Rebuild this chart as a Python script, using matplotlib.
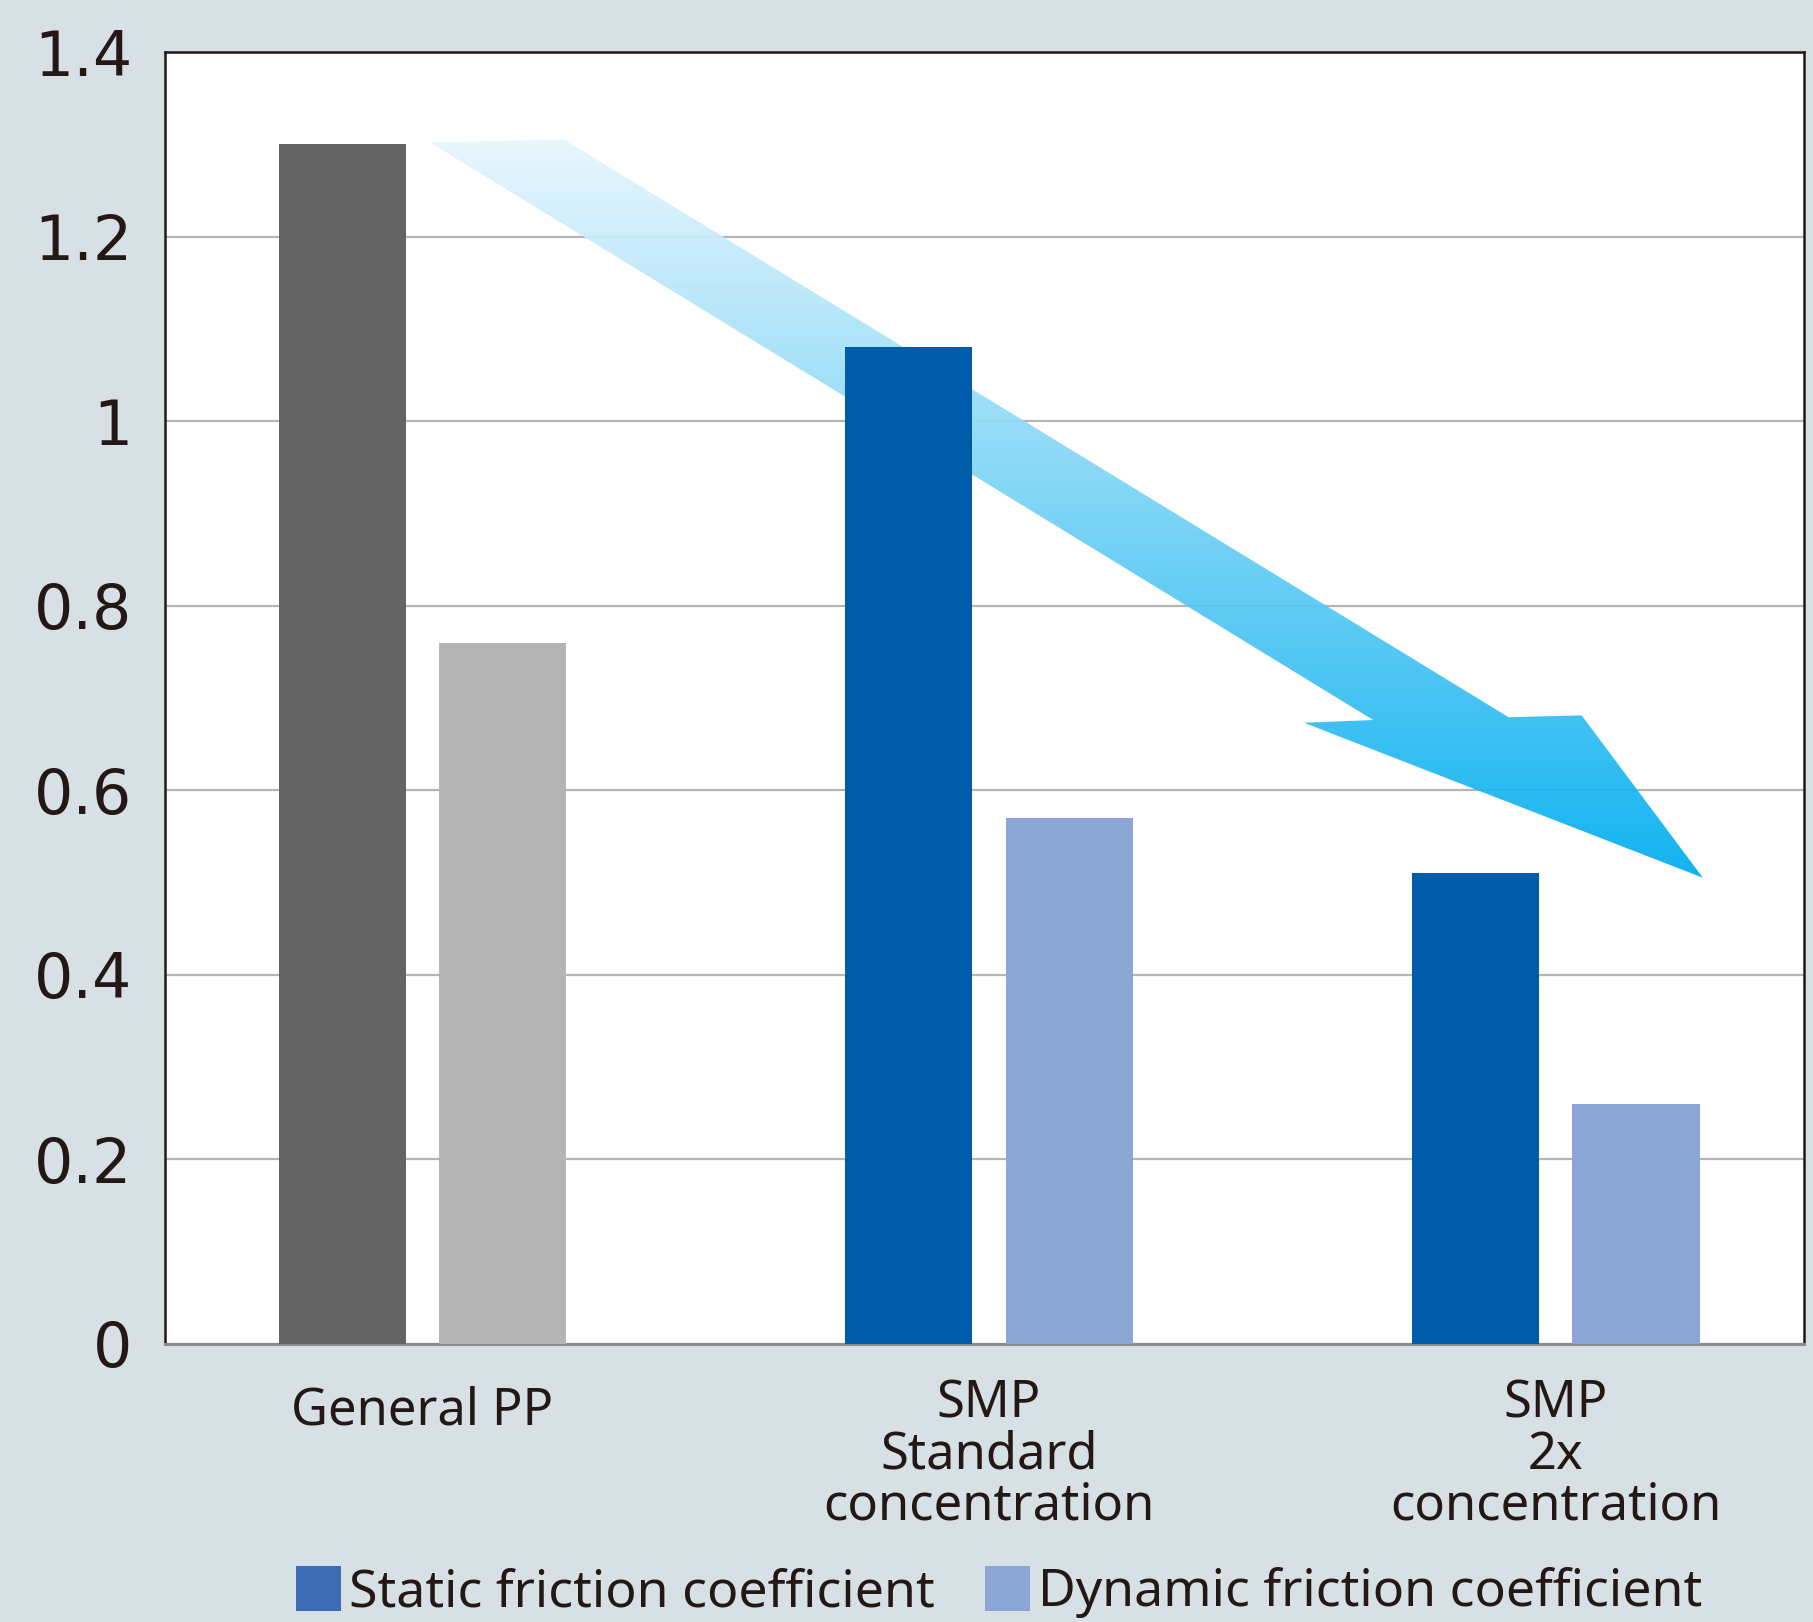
import numpy as np
import matplotlib
matplotlib.use("Agg")
import matplotlib.pyplot as plt
from matplotlib.patches import Polygon, Patch
from matplotlib.colors import LinearSegmentedColormap
import matplotlib.transforms as mtransforms

plt.rcParams['font.family'] = ['Noto Sans', 'DejaVu Sans']

# data
categories = ["General PP", "SMP\nStandard\nconcentration", "SMP\n2x\nconcentration"]
static_vals = [1.30, 1.08, 0.51]
dynamic_vals = [0.76, 0.57, 0.26]
static_colors = ["#646464", "#005bab", "#005bab"]
dynamic_colors = ["#b4b5b4", "#8ba5d4", "#8ba5d4"]
legend_labels = ["Static friction coefficient", "Dynamic friction coefficient"]
legend_colors = ["#3e6cb4", "#8ba5d5"]
y_ticks = [0, 0.2, 0.4, 0.6, 0.8, 1.0, 1.2, 1.4]
y_ticklabels = ["0", "0.2", "0.4", "0.6", "0.8", "1", "1.2", "1.4"]

# decorative trend arrow outline (data coords)
arrow_x = [0.013, 0.250, 1.917, 2.046, 2.260, 1.556, 1.678]
arrow_y = [1.302, 1.305, 0.679, 0.681, 0.505, 0.673, 0.676]

txt_color = "#231815"
bg = "#d7e0e5"

fig = plt.figure(figsize=(18.13, 16.22), dpi=100, facecolor=bg)
ax = fig.add_axes([0.0912, 0.1716, 0.9037, 0.7963])
ax.set_facecolor("white")

x = np.arange(len(categories))
w = 0.2245
off = 0.1418

ax.bar(x - off, static_vals, width=w, color=static_colors, zorder=3)
ax.bar(x + off, dynamic_vals, width=w, color=dynamic_colors, zorder=3)

# gradient arrow
cmap = LinearSegmentedColormap.from_list("arr", ["#00aeef", "#e8f6fd"])
poly = Polygon(np.column_stack([arrow_x, arrow_y]), closed=True,
               facecolor="none", edgecolor="none")
ax.add_patch(poly)
grad = np.linspace(0, 1, 256).reshape(-1, 1)
im = ax.imshow(grad, cmap=cmap, origin="lower", aspect="auto",
               extent=[min(arrow_x), max(arrow_x), min(arrow_y), max(arrow_y)],
               zorder=2, alpha=0.93, interpolation="bilinear")
im.set_clip_path(poly)

ax.set_xlim(-0.454, 2.438)
ax.set_ylim(0, 1.4)
ax.set_yticks(y_ticks)
ax.set_yticklabels(y_ticklabels, fontsize=44.5, color=txt_color, family="DejaVu Sans")
ax.set_xticks([])
ax.tick_params(axis="y", length=0, pad=24)
ax.yaxis.grid(True, color="#b5b5b5", linewidth=1.6, zorder=1)
ax.set_axisbelow(True)

for side in ["left", "top", "right"]:
    ax.spines[side].set_color(txt_color)
    ax.spines[side].set_linewidth(1.8)
ax.spines["bottom"].set_color("#8c8c8c")
ax.spines["bottom"].set_linewidth(2.2)

trans = ax.get_xaxis_transform()
for i, lab in enumerate(categories):
    dy = -42 if i == 0 else -35
    t = mtransforms.offset_copy(trans, fig=fig, x=0, y=dy, units="dots")
    ax.text(i, 0, lab, transform=t, ha="center", va="top", fontsize=36.5,
            color=txt_color, linespacing=1.0)

handles = [Patch(facecolor=c, edgecolor="none") for c in legend_colors]
fig.legend(handles, legend_labels, loc="upper left", bbox_to_anchor=(0.1635, 0.0345),
           ncol=2, frameon=False, fontsize=37.3, handlelength=0.86, handleheight=0.95,
           handletextpad=0.15, columnspacing=0.98, borderaxespad=0, borderpad=0,
           labelcolor=txt_color)

fig.savefig("out.png", dpi=100, facecolor=bg)
